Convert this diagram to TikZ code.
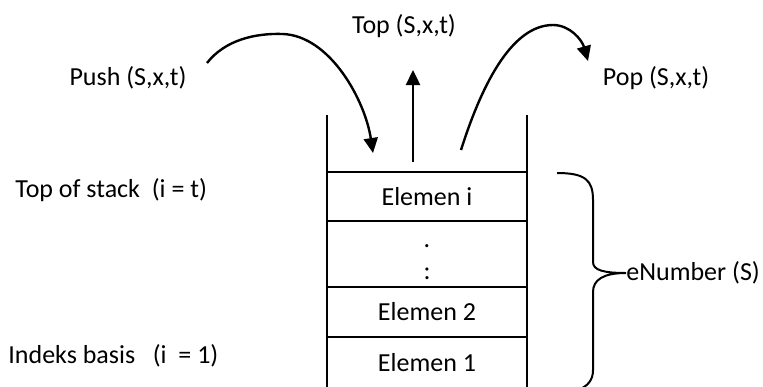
\documentclass[tikz,border=0pt]{standalone}
\usepackage{fontspec}
\setmainfont{Carlito}
\usetikzlibrary{positioning,arrows.meta}

\tikzset{
  row/.style={draw,rectangle,line width=1pt,minimum width=100pt,inner sep=0pt,outer sep=0pt},
  lbl/.style={inner sep=0pt},
  arr/.style={line width=1.2pt,-{Triangle[length=7.5pt,width=7pt]}}
}

\begin{document}
\begin{tikzpicture}[x=0.5pt,y=-0.5pt,font=\fontsize{13}{16}\selectfont]
    \useasboundingbox (0,0) rectangle (763,386);
    % stack cells
    \node[row,minimum height=24.5pt] (ei) at (427,196.5) {Elemen i};
    \node[row,minimum height=33pt,below=0pt of ei] (edots) {};
    \node[row,minimum height=25pt,below=0pt of edots] (etwo) {Elemen 2};
    \node[row,minimum height=25.5pt,below=0pt of etwo] (eone) {Elemen 1};
    \node[lbl,anchor=base] (dotone) at (427,247) {.};
    \node[lbl,anchor=base] (dottwo) at (427,279) {:};
    % open top of the stack
    \coordinate (wl) at (327,115);
    \coordinate (wr) at (527,115);
    \draw[line width=1pt] (wl) -- (ei.north west);
    \draw[line width=1pt] (wr) -- (ei.north east);
    % operations
    \node[lbl,anchor=base] (push) at (128,85) {Push (S,x,t)};
    \node[lbl,anchor=base] (top) at (404,33) {Top (S,x,t)};
    \node[lbl,anchor=base] (pop) at (656,85) {Pop (S,x,t)};
    \coordinate (pushfrom) at (207,63);
    \coordinate (pushto) at (373,153);
    \coordinate (topfrom) at (413,162);
    \coordinate (topto) at (413,70);
    \coordinate (popfrom) at (461,150);
    \coordinate (popto) at (588,61);
    \draw[arr] (pushfrom) .. controls (225,40) and (255,33) .. (283,34)
        .. controls (330,36) and (365,100) .. (pushto);
    \draw[arr] (topfrom) -- (topto);
    \draw[arr] (popfrom) .. controls (480,90) and (510,25) .. (553,25)
        .. controls (570,25) and (582,40) .. (popto);
    % left labels
    \node[lbl,anchor=base west] (tos) at (15,197) {Top of stack~ (i = t)};
    \node[lbl,anchor=base west] (basis) at (8,363) {Indeks basis~~ (i~ = 1)};
    % brace
    \coordinate (bt) at (557,173);
    \coordinate (btip) at (626,273);
    \coordinate (bb) at (578,390);
    \draw[line width=1pt] (bt) .. controls (585,173) and (593,180) .. (593,200)
        -- (593,262) .. controls (593,270) and (603,273) .. (btip)
        .. controls (603,273) and (593,280) .. (593,292)
        -- (593,370) .. controls (593,380) and (588,386) .. (bb);
    \node[lbl,anchor=west] (enum) at (btip) {eNumber (S)};
\end{tikzpicture}
\end{document}
